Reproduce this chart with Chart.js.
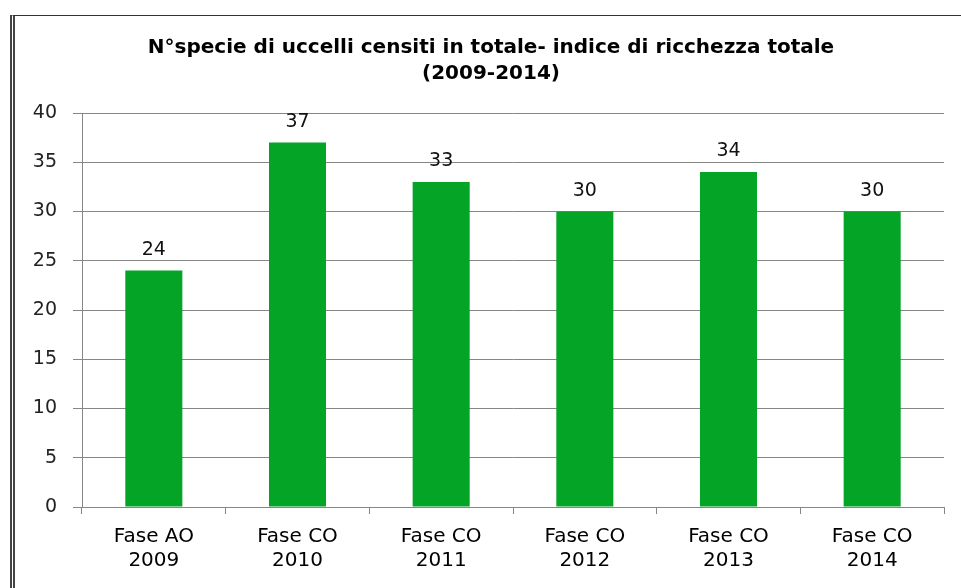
<!DOCTYPE html>
<html>
<head>
<meta charset="utf-8">
<script src="https://cdn.jsdelivr.net/npm/chart.js@4.4.0/dist/chart.umd.min.js"></script>
<style>
  html, body { margin: 0; padding: 0; background: #fff; overflow: hidden; }
  #wrap { position: relative; width: 961px; height: 588px; }
  #frame { position: absolute; left: 10px; top: 15px; width: 980px; height: 600px;
           border-left: 5px double #444; border-top: 1px solid #333; box-sizing: border-box; }
  canvas { position: absolute; left: 0; top: 0; }
</style>
</head>
<body>
<div id="wrap">
  <div id="frame"></div>
  <canvas id="c" width="961" height="588"></canvas>
</div>
<script>
const titleLines = ["N°specie di uccelli censiti in totale- indice di ricchezza totale", "(2009-2014)"];
const categories = [["Fase AO", "2009"], ["Fase CO", "2010"], ["Fase CO", "2011"], ["Fase CO", "2012"], ["Fase CO", "2013"], ["Fase CO", "2014"]];
const speciesCount = [24, 37, 33, 30, 34, 30];
const yMin = 0, yMax = 40, yStep = 5;

const gridColor = '#868686';
const barColor = '#04A427';

const valueLabels = {
  id: 'valueLabels',
  afterDatasetsDraw(chart) {
    const ctx = chart.ctx;
    const meta = chart.getDatasetMeta(0);
    ctx.save();
    ctx.font = '19px "DejaVu Sans"';
    ctx.fillStyle = '#111';
    ctx.textAlign = 'center';
    ctx.textBaseline = 'alphabetic';
    meta.data.forEach((bar, i) => {
      ctx.fillText(String(speciesCount[i]), bar.x, bar.y - 16);
    });
    ctx.restore();
  }
};

new Chart(document.getElementById('c'), {
  type: 'bar',
  data: {
    labels: categories,
    datasets: [{
      data: speciesCount,
      backgroundColor: barColor,
      borderWidth: 0,
      categoryPercentage: 1,
      barPercentage: 0.397,
      yAxisID: 'y'
    }]
  },
  options: {
    responsive: false,
    animation: false,
    layout: { padding: { left: 22, right: 1, top: 0, bottom: 0 } },
    plugins: {
      legend: { display: false },
      tooltip: { enabled: false },
      title: {
        display: true,
        text: titleLines,
        color: '#000',
        font: { family: '"DejaVu Sans", sans-serif', size: 20, weight: 'bold', lineHeight: 1.3 },
        padding: { top: 35, bottom: 26 }
      }
    },
    scales: {
      x: {
        grid: { display: true, drawOnChartArea: false, offset: true, tickLength: 7, color: gridColor, lineWidth: 1 },
        border: { display: true, color: gridColor, width: 1 },
        ticks: { color: '#000', padding: 11, font: { family: '"DejaVu Sans"', size: 20, lineHeight: 1.2 }, maxRotation: 0, autoSkip: false },
        afterFit(scale) { scale.height = 81; }
      },
      y: {
        min: yMin, max: yMax,
        grid: { color: gridColor, lineWidth: 1, tickLength: 9 },
        border: { display: true, color: gridColor, width: 1 },
        ticks: { stepSize: yStep, color: '#222', padding: 16, font: { family: '"DejaVu Sans"', size: 19 } },
        afterFit(scale) { scale.width = 60; }
      },
      spacer: {
        type: 'linear',
        position: 'right',
        display: true,
        grid: { display: false, drawTicks: false },
        border: { display: false },
        ticks: { display: false },
        afterFit(scale) { scale.width = 16; }
      }
    }
  },
  plugins: [valueLabels]
});
</script>
</body>
</html>
